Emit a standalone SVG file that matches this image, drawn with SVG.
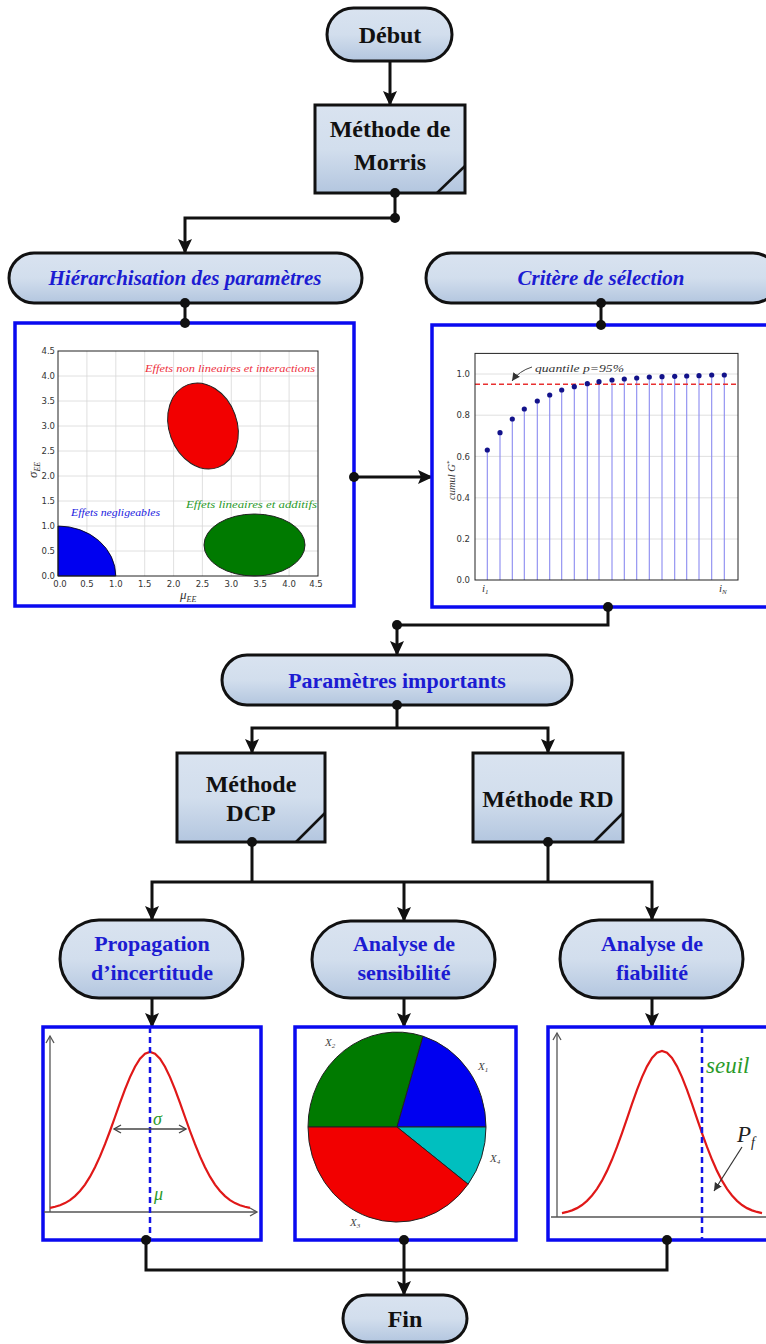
<svg xmlns="http://www.w3.org/2000/svg" width="766" height="1344" viewBox="0 0 766 1344">
<style>
.node{fill:url(#ng);stroke:#111;stroke-width:3}
.bt{font-family:"Liberation Serif",serif;font-weight:bold;font-size:24px;fill:#111;text-anchor:middle}
.blt{font-family:"Liberation Serif",serif;font-weight:bold;font-size:22px;fill:#1c1cd2;text-anchor:middle}
.bit{font-family:"Liberation Serif",serif;font-weight:bold;font-style:italic;font-size:21px;fill:#1c1cd2;text-anchor:middle}
.pbox{fill:#fff;stroke:#0a0af0;stroke-width:3.5}
.con{fill:none;stroke:#111;stroke-width:3}
.arr{marker-end:url(#ah)}
.dot{fill:#111}
.grid{stroke:#d8d8d8;stroke-width:0.8}
.tick{font-family:"DejaVu Sans",sans-serif;font-size:8.5px;fill:#333}
.ax{stroke:#555;stroke-width:1.3;fill:none}
.gauss{fill:none;stroke:#e01818;stroke-width:2.2}
.vdash{stroke:#1414e6;stroke-width:2.5;stroke-dasharray:6 4}
.math{font-family:"Liberation Serif",serif;font-style:italic}
.stem{stroke:#8a8af0;stroke-width:1.1}
.sdot{fill:#12128a}
</style>
<defs>
<linearGradient id="ng" x1="0" y1="0" x2="0" y2="1">
<stop offset="0" stop-color="#d9e3f0"/>
<stop offset="0.5" stop-color="#d2deed"/>
<stop offset="1" stop-color="#b3c6df"/>
</linearGradient>
<marker id="ah" markerUnits="userSpaceOnUse" markerWidth="15" markerHeight="14" refX="14" refY="7" orient="auto">
<path d="M0,0 L15,7 L0,14 L3,7 z" fill="#111"/>
</marker>
<marker id="ga" markerUnits="userSpaceOnUse" markerWidth="10" markerHeight="10" refX="8" refY="5" orient="auto">
<path d="M1,1 L8,5 L1,9" fill="none" stroke="#555" stroke-width="1.3"/>
</marker>
<marker id="gs" markerUnits="userSpaceOnUse" markerWidth="10" markerHeight="10" refX="8" refY="5" orient="auto-start-reverse">
<path d="M1,1 L8,5 L1,9" fill="none" stroke="#444" stroke-width="1.4"/>
</marker>
<marker id="da" markerUnits="userSpaceOnUse" markerWidth="10" markerHeight="10" refX="8" refY="5" orient="auto">
<path d="M0,1 L8,5 L0,9 z" fill="#333"/>
</marker>
<polyline id="gcurve" points="50,1207.9 55,1206.8 60,1205.2 65,1203.1 70,1200.1 75,1196.1 80,1191.0 85,1184.6 90,1176.7 95,1167.3 100,1156.4 105,1144.2 110,1131.0 115,1117.0 120,1102.9 125,1089.4 130,1077.1 135,1066.7 140,1058.6 145,1053.7 150,1052 155,1053.7 160,1058.6 165,1066.7 170,1077.1 175,1089.4 180,1102.9 185,1117.0 190,1131.0 195,1144.2 200,1156.4 205,1167.3 210,1176.7 215,1184.6 220,1191.0 225,1196.1 230,1200.1 235,1203.1 240,1205.2 245,1206.8 250,1207.9"/>
</defs>
<rect width="766" height="1344" fill="#fff"/>

<g id="connectors">
<line class="con arr" x1="390" y1="61" x2="390" y2="105"/>
<polyline class="con arr" points="395,193 395,218 185,218 185,253"/>
<line class="con" x1="185" y1="303" x2="185" y2="323"/>
<line class="con" x1="601" y1="303" x2="601" y2="325"/>
<line class="con arr" x1="354" y1="477" x2="432" y2="477"/>
<polyline class="con arr" points="608,607 608,625 397,625 397,655"/>
<line class="con" x1="397" y1="705" x2="397" y2="728"/>
<polyline class="con arr" points="397,728 252,728 252,753"/>
<polyline class="con arr" points="397,728 548,728 548,753"/>
<line class="con" x1="252" y1="842" x2="252" y2="882"/>
<line class="con" x1="548" y1="842" x2="548" y2="882"/>
<line class="con" x1="252" y1="882" x2="548" y2="882"/>
<polyline class="con arr" points="252,882 152,882 152,920"/>
<polyline class="con arr" points="548,882 652,882 652,920"/>
<line class="con arr" x1="404" y1="882" x2="404" y2="921"/>
<line class="con arr" x1="152" y1="998" x2="152" y2="1027"/>
<line class="con arr" x1="404" y1="998" x2="404" y2="1027"/>
<line class="con arr" x1="652" y1="998" x2="652" y2="1027"/>
<polyline class="con" points="146,1240 146,1270 667,1270 667,1240"/>
<line class="con arr" x1="404" y1="1240" x2="404" y2="1295"/>
</g>

<g id="debut">
<rect class="node" x="327" y="8" width="125" height="53" rx="26.5"/>
<text class="bt" x="390" y="43">Début</text>
</g>

<g id="morris">
<rect class="node" x="315" y="105" width="150" height="88"/>
<line x1="437" y1="193" x2="465" y2="166" stroke="#111" stroke-width="2.5"/>
<text class="bt" x="390" y="137">Méthode de</text>
<text class="bt" x="390" y="170">Morris</text>
</g>

<g id="hierarchisation">
<rect class="node" x="9" y="253" width="353" height="50" rx="25"/>
<text class="bit" x="185" y="285">Hiérarchisation des paramètres</text>
</g>

<g id="critere">
<rect class="node" x="426" y="253" width="352" height="50" rx="25"/>
<text class="bit" x="601" y="285">Critère de sélection</text>
</g>

<g id="plot-morris">
<rect class="pbox" x="15" y="323" width="339" height="283"/>
<g class="grid">
<line x1="86.9" y1="351" x2="86.9" y2="576"/><line x1="115.8" y1="351" x2="115.8" y2="576"/><line x1="144.7" y1="351" x2="144.7" y2="576"/><line x1="173.6" y1="351" x2="173.6" y2="576"/><line x1="202.4" y1="351" x2="202.4" y2="576"/><line x1="231.3" y1="351" x2="231.3" y2="576"/><line x1="260.2" y1="351" x2="260.2" y2="576"/><line x1="289.1" y1="351" x2="289.1" y2="576"/>
<line x1="58" y1="551" x2="318" y2="551"/><line x1="58" y1="526" x2="318" y2="526"/><line x1="58" y1="501" x2="318" y2="501"/><line x1="58" y1="476" x2="318" y2="476"/><line x1="58" y1="451" x2="318" y2="451"/><line x1="58" y1="426" x2="318" y2="426"/><line x1="58" y1="401" x2="318" y2="401"/><line x1="58" y1="376" x2="318" y2="376"/>
</g>
<path d="M58,576 L58,526 A57.8,50 0 0,1 115.8,576 Z" fill="#0000f0" stroke="#000" stroke-width="0.8"/>
<ellipse cx="203" cy="426" rx="34" ry="44" transform="rotate(-20 203 426)" fill="#f20000" stroke="#222" stroke-width="1"/>
<ellipse cx="254.5" cy="545" rx="50.5" ry="31" fill="#007a00" stroke="#222" stroke-width="1"/>
<rect x="58" y="351" width="260" height="225" fill="none" stroke="#222" stroke-width="1"/>
<g class="tick" text-anchor="end">
<text x="55" y="354">4.5</text><text x="55" y="379">4.0</text><text x="55" y="404">3.5</text><text x="55" y="429">3.0</text><text x="55" y="454">2.5</text><text x="55" y="479">2.0</text><text x="55" y="504">1.5</text><text x="55" y="529">1.0</text><text x="55" y="554">0.5</text><text x="55" y="579">0.0</text>
</g>
<g class="tick" text-anchor="middle">
<text x="60" y="587">0.0</text><text x="86.9" y="587">0.5</text><text x="115.8" y="587">1.0</text><text x="144.7" y="587">1.5</text><text x="173.6" y="587">2.0</text><text x="202.4" y="587">2.5</text><text x="231.3" y="587">3.0</text><text x="260.2" y="587">3.5</text><text x="289.1" y="587">4.0</text><text x="316" y="587">4.5</text>
</g>
<text class="math" x="145" y="372" font-size="10" fill="#ee3040" textLength="170" lengthAdjust="spacingAndGlyphs">Effets non lineaires et interactions</text>
<text class="math" x="186" y="508" font-size="10" fill="#2a9a2a" textLength="131" lengthAdjust="spacingAndGlyphs">Effets lineaires et additifs</text>
<text class="math" x="71" y="516" font-size="10" fill="#2020e0" textLength="89" lengthAdjust="spacingAndGlyphs">Effets negligeables</text>
<text class="math" x="180" y="599" font-size="13" fill="#333">μ<tspan font-size="8" dy="3">EE</tspan></text>
<text class="math" x="0" y="0" font-size="13" fill="#333" transform="translate(37 478) rotate(-90)">σ<tspan font-size="8" dy="3">EE</tspan></text>
</g>

<g id="plot-critere">
<rect class="pbox" x="432" y="325" width="350" height="282"/>
<g class="grid">
<line x1="475" y1="539" x2="738" y2="539"/><line x1="475" y1="497.8" x2="738" y2="497.8"/><line x1="475" y1="456.4" x2="738" y2="456.4"/><line x1="475" y1="415.2" x2="738" y2="415.2"/><line x1="475" y1="374" x2="738" y2="374"/>
</g>
<g class="stem">
<line x1="487.3" y1="580" x2="487.3" y2="450"/><line x1="500" y1="580" x2="500" y2="432.7"/><line x1="512.3" y1="580" x2="512.3" y2="419"/><line x1="524.3" y1="580" x2="524.3" y2="409"/><line x1="537.3" y1="580" x2="537.3" y2="401"/><line x1="549.7" y1="580" x2="549.7" y2="395"/><line x1="561.7" y1="580" x2="561.7" y2="390"/><line x1="574.3" y1="580" x2="574.3" y2="386.7"/><line x1="587.3" y1="580" x2="587.3" y2="383.7"/><line x1="599" y1="580" x2="599" y2="381.7"/><line x1="612" y1="580" x2="612" y2="380"/><line x1="624.3" y1="580" x2="624.3" y2="379"/><line x1="636.7" y1="580" x2="636.7" y2="378"/><line x1="649.3" y1="580" x2="649.3" y2="377"/><line x1="662" y1="580" x2="662" y2="376.7"/><line x1="674.7" y1="580" x2="674.7" y2="376.3"/><line x1="686.7" y1="580" x2="686.7" y2="376"/><line x1="699" y1="580" x2="699" y2="375.7"/><line x1="711.7" y1="580" x2="711.7" y2="375"/><line x1="724.3" y1="580" x2="724.3" y2="375"/>
</g>
<line x1="475" y1="384.3" x2="738" y2="384.3" stroke="#e83030" stroke-width="1.6" stroke-dasharray="5 3"/>
<g class="sdot">
<circle cx="487.3" cy="450" r="2.6"/><circle cx="500" cy="432.7" r="2.6"/><circle cx="512.3" cy="419" r="2.6"/><circle cx="524.3" cy="409" r="2.6"/><circle cx="537.3" cy="401" r="2.6"/><circle cx="549.7" cy="395" r="2.6"/><circle cx="561.7" cy="390" r="2.6"/><circle cx="574.3" cy="386.7" r="2.6"/><circle cx="587.3" cy="383.7" r="2.6"/><circle cx="599" cy="381.7" r="2.6"/><circle cx="612" cy="380" r="2.6"/><circle cx="624.3" cy="379" r="2.6"/><circle cx="636.7" cy="378" r="2.6"/><circle cx="649.3" cy="377" r="2.6"/><circle cx="662" cy="376.7" r="2.6"/><circle cx="674.7" cy="376.3" r="2.6"/><circle cx="686.7" cy="376" r="2.6"/><circle cx="699" cy="375.7" r="2.6"/><circle cx="711.7" cy="375" r="2.6"/><circle cx="724.3" cy="375" r="2.6"/>
</g>
<rect x="475" y="353.4" width="263" height="226.6" fill="none" stroke="#222" stroke-width="1"/>
<g class="tick" text-anchor="end">
<text x="470" y="377">1.0</text><text x="470" y="418">0.8</text><text x="470" y="459.5">0.6</text><text x="470" y="500.5">0.4</text><text x="470" y="542">0.2</text><text x="470" y="583">0.0</text>
</g>
<path d="M532,367 Q519,371 512,381" fill="none" stroke="#444" stroke-width="1" marker-end="url(#da)"/>
<text class="math" x="535" y="372" font-size="11" fill="#333" textLength="89" lengthAdjust="spacingAndGlyphs">quantile p=95%</text>
<text class="math" x="0" y="0" font-size="10.5" fill="#333" transform="translate(455 500) rotate(-90)">cumul G<tspan font-size="7" dy="-4">*</tspan></text>
<text class="math" x="482" y="592" font-size="11" fill="#333">i<tspan font-size="7" dy="2">1</tspan></text>
<text class="math" x="719" y="592" font-size="11" fill="#333">i<tspan font-size="7" dy="2">N</tspan></text>
</g>

<g id="parametres">
<rect class="node" x="222" y="655" width="350" height="50" rx="25"/>
<text class="blt" x="397" y="688">Paramètres importants</text>
</g>

<g id="dcp">
<rect class="node" x="177" y="753" width="148" height="89"/>
<line x1="296" y1="842" x2="325" y2="813" stroke="#111" stroke-width="2.5"/>
<text class="bt" x="251" y="792">Méthode</text>
<text class="bt" x="251" y="821">DCP</text>
</g>

<g id="rd">
<rect class="node" x="473" y="753" width="150" height="89"/>
<line x1="594" y1="842" x2="623" y2="813" stroke="#111" stroke-width="2.5"/>
<text class="bt" x="548" y="807">Méthode RD</text>
</g>

<g id="propagation">
<rect class="node" x="60" y="920" width="183" height="78" rx="39"/>
<text class="blt" x="152" y="951">Propagation</text>
<text class="blt" x="152" y="980">d’incertitude</text>
</g>

<g id="sensibilite">
<rect class="node" x="312" y="921" width="183" height="77" rx="38.5"/>
<text class="blt" x="404" y="951">Analyse de</text>
<text class="blt" x="404" y="980">sensibilité</text>
</g>

<g id="fiabilite">
<rect class="node" x="560" y="920" width="183" height="78" rx="39"/>
<text class="blt" x="652" y="951">Analyse de</text>
<text class="blt" x="652" y="980">fiabilité</text>
</g>

<g id="plot-propagation">
<rect class="pbox" x="43" y="1027" width="218" height="213"/>
<line class="ax" x1="50" y1="1212" x2="50" y2="1036" marker-end="url(#ga)"/>
<line class="ax" x1="44" y1="1212" x2="257" y2="1212" marker-end="url(#ga)"/>
<use href="#gcurve" class="gauss"/>
<line x1="150" y1="1027" x2="150" y2="1240" class="vdash"/>
<line x1="114" y1="1129" x2="186" y2="1129" stroke="#444" stroke-width="1.4" marker-start="url(#gs)" marker-end="url(#gs)"/>
<text class="math" x="153" y="1125" font-size="18" fill="#2a9a2a">σ</text>
<text class="math" x="154" y="1200" font-size="18" fill="#2a9a2a">μ</text>
</g>

<g id="plot-sensibilite">
<rect class="pbox" x="295" y="1027" width="221" height="213"/>
<g stroke="#222" stroke-width="1">
<path d="M397,1127 L308,1127 A89,95 0 0,1 423,1036.2 Z" fill="#007a00"/>
<path d="M397,1127 L423,1036.2 A89,95 0 0,1 486,1127 Z" fill="#0000f0"/>
<path d="M397,1127 L486,1127 A89,95 0 0,1 468.1,1184.2 Z" fill="#00bfbf"/>
<path d="M397,1127 L468.1,1184.2 A89,95 0 0,1 308,1127 Z" fill="#f20000"/>
</g>
<g class="math" font-size="11" fill="#444">
<text x="325" y="1046">X<tspan font-size="7" dy="2">2</tspan></text>
<text x="478" y="1070">X<tspan font-size="7" dy="2">1</tspan></text>
<text x="490" y="1162">X<tspan font-size="7" dy="2">4</tspan></text>
<text x="350" y="1226">X<tspan font-size="7" dy="2">3</tspan></text>
</g>
</g>

<g id="plot-fiabilite">
<rect class="pbox" x="548" y="1027" width="234" height="213"/>
<line class="ax" x1="557" y1="1217" x2="557" y2="1033" marker-end="url(#ga)"/>
<line class="ax" x1="551" y1="1217" x2="770" y2="1217"/>
<use href="#gcurve" class="gauss" transform="matrix(1 0 0 1.04 512 -43.08)" vector-effect="non-scaling-stroke"/>
<line x1="702" y1="1027" x2="702" y2="1240" class="vdash"/>
<text class="math" x="706" y="1073" font-size="23" fill="#2a9a2a">seuil</text>
<text class="math" x="737" y="1142" font-size="23" fill="#222">P<tspan font-size="14" dy="5">f</tspan></text>
<line x1="742" y1="1147" x2="714" y2="1191" stroke="#333" stroke-width="1.2" marker-end="url(#da)"/>
</g>

<g id="fin">
<rect class="node" x="343" y="1295" width="124" height="47" rx="23.5"/>
<text class="bt" x="405" y="1327">Fin</text>
</g>

<g id="junctions" class="dot">
<circle cx="395" cy="193" r="5"/><circle cx="395" cy="218" r="5"/>
<circle cx="185" cy="303" r="5"/><circle cx="185" cy="323" r="5"/>
<circle cx="601" cy="303" r="5"/><circle cx="601" cy="325" r="5"/>
<circle cx="354" cy="477" r="5"/>
<circle cx="608" cy="607" r="5"/><circle cx="397" cy="625" r="5"/>
<circle cx="397" cy="705" r="5"/>
<circle cx="252" cy="842" r="5"/><circle cx="548" cy="842" r="5"/>
<circle cx="146" cy="1240" r="5"/><circle cx="404" cy="1240" r="5"/><circle cx="667" cy="1240" r="5"/>
</g>
</svg>
